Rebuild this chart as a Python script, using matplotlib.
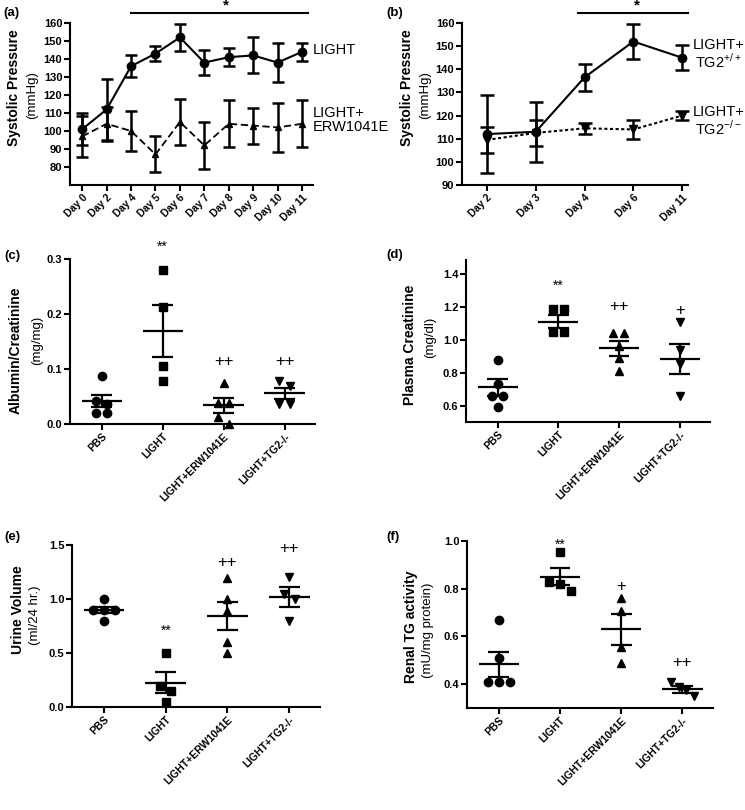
import numpy as np
import matplotlib
matplotlib.use("Agg")
import matplotlib.pyplot as plt

plt.rcParams['font.family'] = ['Liberation Sans', 'DejaVu Sans']
plt.rcParams['mathtext.fontset'] = 'custom'
plt.rcParams['mathtext.rm'] = 'Liberation Sans'

# ---- data -------------------------------------------------------------
days_a = ["Day 0", "Day 2", "Day 4", "Day 5", "Day 6", "Day 7", "Day 8", "Day 9", "Day 10", "Day 11"]
light_mean_a = [101, 112, 136, 143, 152, 138, 141, 142, 138, 144]
light_sem_a = [9, 17, 6, 4, 7.5, 7, 5, 10, 11, 5]
erw_mean_a = [97, 104, 100, 87, 105, 92, 104, 103, 102, 104]
erw_sem_a = [11.5, 9.5, 11, 10, 13, 13, 13, 10, 13.5, 13]

days_b = ["Day 2", "Day 3", "Day 4", "Day 6", "Day 11"]
wt_mean_b = [112, 113, 136.5, 152, 145]
wt_sem_b = [17, 13, 6, 7.5, 5.5]
ko_mean_b = [109.5, 112.5, 114.5, 114, 120]
ko_sem_b = [5.5, 5.5, 2.5, 4, 2]

groups = ["PBS", "LIGHT", "LIGHT+ERW1041E", "LIGHT+TG2-/-"]
markers = ["o", "s", "^", "v"]

alb_pts = [[0.087, 0.042, 0.036, 0.02, 0.02],
           [0.28, 0.213, 0.105, 0.078],
           [0.075, 0.038, 0.038, 0.013, 0.0],
           [0.079, 0.069, 0.036, 0.036]]
alb_mean = [0.042, 0.169, 0.034, 0.056]
alb_sem = [0.011, 0.047, 0.0135, 0.010]
alb_sig = ["", "**", "++", "++"]
alb_sig_y = [0, 0.322, 0.113, 0.113]

cre_pts = [[0.88, 0.73, 0.66, 0.66, 0.59],
           [1.185, 1.185, 1.05, 1.05],
           [1.04, 1.04, 0.96, 0.89, 0.81],
           [1.11, 0.94, 0.85, 0.66]]
cre_mean = [0.71, 1.11, 0.948, 0.885]
cre_sem = [0.05, 0.04, 0.045, 0.092]
cre_sig = ["", "**", "++", "+"]
cre_sig_y = [0, 1.33, 1.2, 1.18]

uri_pts = [[1.0, 0.9, 0.9, 0.9, 0.8],
           [0.5, 0.19, 0.15, 0.05],
           [1.19, 1.0, 0.89, 0.6, 0.5],
           [1.2, 1.05, 1.0, 0.8]]
uri_mean = [0.9, 0.225, 0.84, 1.02]
uri_sem = [0.03, 0.095, 0.13, 0.09]
uri_sig = ["", "**", "++", "++"]
uri_sig_y = [0, 0.71, 1.34, 1.47]

tg_pts = [[0.67, 0.51, 0.41, 0.41, 0.41],
          [0.955, 0.83, 0.82, 0.79],
          [0.76, 0.705, 0.555, 0.49],
          [0.41, 0.39, 0.375, 0.35]]
tg_mean = [0.483, 0.85, 0.63, 0.378]
tg_sem = [0.052, 0.035, 0.065, 0.015]
tg_sig = ["", "**", "+", "++"]
tg_sig_y = [0, 0.985, 0.81, 0.49]

# ---- layout helpers -----------------------------------------------------
W, H = 745, 810
fig = plt.figure(figsize=(W / 100, H / 100), dpi=100)


def add_ax(l, t, r, b):
    return fig.add_axes([l / W, 1 - b / H, (r - l) / W, (b - t) / H])


def style(ax):
    for s in ["top", "right"]:
        ax.spines[s].set_visible(False)
    for s in ["left", "bottom"]:
        ax.spines[s].set_linewidth(1.5)
    ax.tick_params(direction="out", length=4, width=1.5, pad=1.5)
    ax.tick_params(axis="y", labelsize=8)
    ax.tick_params(axis="x", labelsize=7.5)
    for lab in ax.get_yticklabels() + ax.get_xticklabels():
        lab.set_fontweight("bold")


def ylabel(x1, x2, y1, y2, bold, normal):
    fig.text(x1 / W, 1 - y1 / H, bold, rotation=90, ha="center", va="center",
             fontsize=10, fontweight="bold")
    fig.text(x2 / W, 1 - y2 / H, normal, rotation=90, ha="center", va="center",
             fontsize=9.5)


def letter(x, y, s):
    fig.text(x / W, 1 - y / H, s, ha="left", va="center", fontsize=9.5, fontweight="bold")


def spread(vals, tol, step=0.18):
    # simple horizontal spreading of points with close values (dot-plot style)
    vals = np.asarray(vals)
    order = np.argsort(-vals, kind="stable")
    offs = np.zeros(len(vals))
    clusters = [[order[0]]]
    for i in order[1:]:
        if abs(vals[clusters[-1][-1]] - vals[i]) < tol:
            clusters[-1].append(i)
        else:
            clusters.append([i])
    for c in clusters:
        n = len(c)
        st = step if n < 4 else step * 0.7
        for k, i in enumerate(c):
            offs[i] = (k - (n - 1) / 2) * st
    return offs


def scatter_panel(ax, pts, means, sems, sig, sig_y, ylim, yticks, fmt):
    ax.set_xlim(-0.52, 3.5)
    ax.set_ylim(*ylim)
    tol = 0.045 * (ylim[1] - ylim[0])
    for i, (p, m) in enumerate(zip(pts, markers)):
        x = i + spread(p, tol)
        ax.plot(x, p, linestyle="none", marker=m, ms=6, color="black", clip_on=False, zorder=2)
        ax.hlines(means[i], i - 0.33, i + 0.33, color="black", lw=1.6, zorder=3)
        ax.vlines(i, means[i] - sems[i], means[i] + sems[i], color="black", lw=1.6, zorder=3)
        ax.hlines([means[i] - sems[i], means[i] + sems[i]], i - 0.17, i + 0.17,
                  color="black", lw=1.6, zorder=3)
        if sig[i]:
            fs = 10 if "*" in sig[i] else 12
            ax.text(i, sig_y[i], sig[i], ha="center", va="center", fontsize=fs, clip_on=False)
    ax.set_xticks(range(len(groups)))
    ax.set_xticklabels(groups, rotation=45, ha="right", rotation_mode="anchor")
    ax.set_yticks(yticks)
    ax.set_yticklabels([fmt.format(v) for v in yticks])
    style(ax)


# ---- (a) ------------------------------------------------------------------
ax = add_ax(70, 23, 313, 185)
xa = np.arange(len(days_a))
ax.errorbar(xa, light_mean_a, yerr=light_sem_a, color="black", lw=1.5, marker="o", ms=6,
            capsize=4.5, capthick=1.8, elinewidth=1.8, clip_on=False)
ax.errorbar(xa, erw_mean_a, yerr=erw_sem_a, color="black", lw=1.3, ls=(0, (4, 2)), marker="^",
            ms=5, capsize=4.5, capthick=1.8, elinewidth=1.8, clip_on=False)
ax.set_xlim(-0.5, 9.45)
ax.set_ylim(70, 160)
ax.set_yticks(range(80, 161, 10))
ax.set_xticks(xa)
ax.set_xticklabels(days_a, rotation=45, ha="right", rotation_mode="anchor")
style(ax)
tr = ax.get_yaxis_transform()
ax.text(1.0, 145, "LIGHT", transform=tr, ha="left", va="center", fontsize=10.5)
ax.text(1.0, 106, "LIGHT+\nERW1041E", transform=tr, ha="left", va="center", fontsize=10.5,
        linespacing=1.0)
ax.plot([2, 9.25], [165.5, 165.5], color="black", lw=1.5, clip_on=False)
ax.text(5.9, 169.5, "*", ha="center", va="center", fontsize=11, fontweight="bold")
ylabel(14, 32, 88, 95, "Systolic Pressure", "(mmHg)")

# ---- (b) ------------------------------------------------------------------
ax = add_ax(462, 23, 688, 185)
xb = np.arange(len(days_b))
ax.errorbar(xb, wt_mean_b, yerr=wt_sem_b, color="black", lw=1.5, marker="o", ms=6,
            capsize=5, capthick=1.8, elinewidth=1.8, clip_on=False)
ax.errorbar(xb, ko_mean_b, yerr=ko_sem_b, color="black", lw=1.5, ls=(0, (1.5, 1.2)), marker="v",
            ms=6, capsize=5, capthick=1.8, elinewidth=1.8, clip_on=False)
ax.set_xlim(-0.51, 4.12)
ax.set_ylim(90, 160)
ax.set_yticks(range(90, 161, 10))
ax.set_xticks(xb)
ax.set_xticklabels(days_b, rotation=45, ha="right", rotation_mode="anchor")
style(ax)
tr = ax.get_yaxis_transform()
ax.text(1.02, 146.5, "LIGHT+\nTG2$^{+/+}$", transform=tr, ha="left", va="center", fontsize=10.5,
        multialignment="center", linespacing=1.0)
ax.text(1.02, 117.5, "LIGHT+\nTG2$^{-/-}$", transform=tr, ha="left", va="center", fontsize=10.5,
        multialignment="center", linespacing=1.0)
ax.plot([1.87, 4.12], [164.3, 164.3], color="black", lw=1.5, clip_on=False)
ax.text(3.07, 167.5, "*", ha="center", va="center", fontsize=11, fontweight="bold")
ylabel(407, 425, 88, 95, "Systolic Pressure", "(mmHg)")

# ---- (c)-(f) --------------------------------------------------------------
ax = add_ax(70, 259, 315, 424)
scatter_panel(ax, alb_pts, alb_mean, alb_sem, alb_sig, alb_sig_y, (0, 0.3),
              [0.0, 0.1, 0.2, 0.3], "{:.1f}")
ylabel(16, 37, 350, 340, "Albumin/Creatinine", "(mg/mg)")

ax = add_ax(466, 260, 710, 422)
scatter_panel(ax, cre_pts, cre_mean, cre_sem, cre_sig, cre_sig_y, (0.5, 1.485),
              [0.6, 0.8, 1.0, 1.2, 1.4], "{:.1f}")
ylabel(410, 430, 345, 337, "Plasma Creatinine", "(mg/dl)")

ax = add_ax(72, 545, 320, 707)
scatter_panel(ax, uri_pts, uri_mean, uri_sem, uri_sig, uri_sig_y, (0, 1.5),
              [0.0, 0.5, 1.0, 1.5], "{:.1f}")
ylabel(18, 35, 610, 615, "Urine Volume", "(ml/24 hr.)")

ax = add_ax(467, 541, 713, 708)
scatter_panel(ax, tg_pts, tg_mean, tg_sem, tg_sig, tg_sig_y, (0.3, 1.0),
              [0.4, 0.6, 0.8, 1.0], "{:.1f}")
ylabel(411, 428, 627, 630, "Renal TG activity", "(mU/mg protein)")

letter(3, 13, "(a)")
letter(386, 13, "(b)")
letter(4, 256, "(c)")
letter(386, 255, "(d)")
letter(4, 537, "(e)")
letter(386, 537, "(f)")

fig.savefig("out.png", dpi=100, facecolor="white")
